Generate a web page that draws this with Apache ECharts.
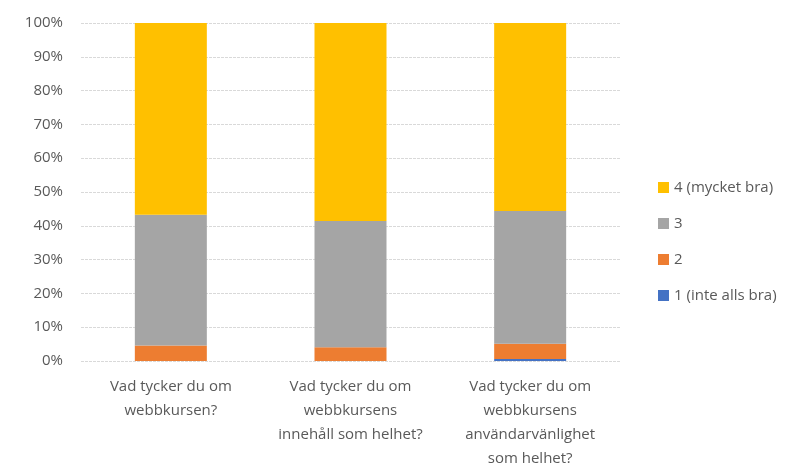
<!DOCTYPE html>
<html><head><meta charset="utf-8">
<script src="https://cdn.jsdelivr.net/npm/echarts@6/dist/echarts.min.js"></script>
<style>html,body{margin:0;padding:0;background:#fff}#c{width:798px;height:469px}</style>
</head><body><div id="c"></div>
<script>
var categories = ['Vad tycker du om\nwebbkursen?', 'Vad tycker du om\nwebbkursens\ninnehåll som helhet?', 'Vad tycker du om\nwebbkursens\nanvändarvänlighet\nsom helhet?'];
var s1 = [0, 0, 0.6];
var s2 = [4.6, 4.1, 4.5];
var s3 = [38.7, 37.3, 39.3];
var s4 = [56.7, 58.6, 55.6];
var seriesNames = ['1 (inte alls bra)', '2', '3', '4 (mycket bra)'];
var colors = ['#4472C4', '#ED7D31', '#A5A5A5', '#FFC000'];
var font = '"Open Sans", Lato, sans-serif';
var chart = echarts.init(document.getElementById('c'));
var data = [s1, s2, s3, s4];
chart.setOption({
  animation: false,
  textStyle: {fontFamily: font},
  grid: {left: 81, right: 178, top: 23, bottom: 108, containLabel: false, outerBoundsMode: 'none'},
  legend: {
    orient: 'vertical', left: 653, top: 175, itemGap: 21,
    itemWidth: 11, itemHeight: 11, icon: 'rect',
    data: seriesNames.slice().reverse(),
    textStyle: {color: '#595959', fontSize: 15, fontFamily: font}
  },
  xAxis: {
    type: 'category', data: categories,
    axisLine: {show: false}, axisTick: {show: false},
    axisLabel: {color: '#595959', fontSize: 15, lineHeight: 24, margin: 14, interval: 0, fontFamily: font}
  },
  yAxis: {
    type: 'value', min: 0, max: 100, interval: 10,
    axisLabel: {formatter: '{value}%', color: '#595959', fontSize: 15, margin: 18, fontFamily: font},
    splitLine: {lineStyle: {color: '#d9d9d9', type: [3, 1], width: 1}},
    axisLine: {show: false}, axisTick: {show: false}
  },
  series: data.map(function (d, i) {
    return {name: seriesNames[i], type: 'bar', stack: 'a', data: d, barWidth: 72,
      itemStyle: {color: colors[i]}};
  })
});
</script></body></html>
